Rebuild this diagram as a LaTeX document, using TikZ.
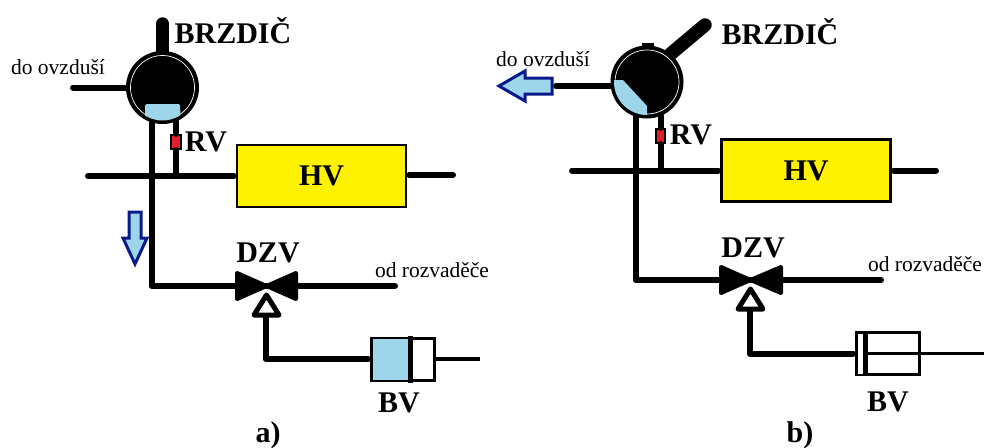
\documentclass[tikz,border=0pt]{standalone}
\usepackage{fontspec}
\setmainfont{Liberation Serif}
\definecolor{liquid}{HTML}{9DD6EA}
\definecolor{navyline}{HTML}{0A1A8C}
\definecolor{hvyellow}{HTML}{FFF200}
\definecolor{rvred}{HTML}{E2202C}
\begin{document}
\begin{tikzpicture}[x=1pt,y=-1pt,
  pipe/.style={line width=6pt,line cap=round,line join=round},
  rod/.style={line width=3.5pt},
  brake/.style={circle,draw=black,fill=black,line width=4pt,minimum size=69pt,inner sep=0pt},
  handle/.style={line width=13.5pt,line cap=round},
  ring/.style={draw=white,line width=0.7pt},
  tank/.style={rectangle,draw=black,fill=hvyellow,line width=2.5pt,minimum width=169pt,minimum height=62pt,inner sep=0pt,font=\fontsize{30}{32}\selectfont\bfseries},
  relief/.style={rectangle,draw=black,fill=rvred,line width=1.8pt,minimum width=9.5pt,minimum height=14.5pt,inner sep=0pt},
  cyl/.style={rectangle,draw=black,fill=white,line width=3pt,minimum width=62.5pt,minimum height=42pt,inner sep=0pt},
  wedge/.style={fill=black,draw=black,line width=4pt,line join=round},
  port/.style={fill=white,draw=black,line width=5pt,line join=round},
  flow/.style={fill=liquid,draw=navyline,line width=3pt,line join=miter},
  big/.style={inner sep=0pt,font=\fontsize{30}{32}\selectfont\bfseries},
  small/.style={inner sep=0pt,font=\fontsize{21.5}{24}\selectfont}]
\useasboundingbox (0,0) rectangle (984,447);
\fill[white] (0,0) rectangle (984,447);

\coordinate (handleA) at (162.5,24);
\coordinate (ventA) at (73,87.5);
\coordinate (lineWA) at (88,176);
\coordinate (teeA) at (176,176);
\coordinate (bendA) at (151.5,286);
\coordinate (stubA) at (453,175);
\coordinate (feedA) at (395,286);
\coordinate (portA) at (265.5,316);
\coordinate (bendBA) at (265.5,359);
\coordinate (rodA) at (480,359);
\coordinate (midA) at (266.5,286);
\node[brake] (brakeA) at (162.5,87.5) {};
\draw[handle] (brakeA.north) -- (handleA);
\begin{scope}
\clip (brakeA.center) circle (33pt);
\draw[ring] (brakeA.center) circle (32pt);
\fill[liquid,rounded corners=1.5pt] (145,104) -- (180,104) -- (181,130) -- (145,130) -- cycle;
\end{scope}
\node[tank] (hvA) at (321.5,176) {HV};
\node[relief] (rvA) at (176,142) {};
\node[cyl] (bvA) at (403,359) {};
\fill[liquid] (372.5,338.5) rectangle (409,379.5);
\draw[line width=5pt] (410,335.5) -- (410,382.5);
\draw[pipe] (ventA) -- (ventA -| brakeA.west);
\draw[pipe] (bendA |- brakeA.251) -- (bendA) -- (midA);
\draw[pipe,shorten >=2pt] (lineWA) -- (hvA.west);
\draw[pipe] (rvA.north |- brakeA.-68) -- (rvA.north);
\draw[pipe] (rvA.south) -- (teeA);
\draw[pipe,shorten <=2pt] (stubA -| hvA.east) -- (stubA);
\draw[pipe] (midA) -- (feedA);
\draw[wedge] (midA) -- (237,273) -- (237,299) -- cycle;
\draw[wedge] (midA) -- (296,273) -- (296,299) -- cycle;
\draw[port] (266.5,295) -- (254,315) -- (279,315) -- cycle;
\draw[pipe,shorten >=2pt] (portA) -- (bendBA) -- (bvA.west);
\draw[rod] (bvA.east) -- (rodA);
\draw[flow] (129,212) -- (141,212) -- (141,238) -- (147,238) -- (135,264) -- (123,238) -- (129,238) -- cycle;
\node[big] (brakeTextA) at (233,31) {BRZDIČ};
\node[small] (ventTextA) at (58,67) {do ovzduší};
\node[big] (rvTextA) at (206,142) {RV};
\node[big] (dzvTextA) at (268,253) {DZV};
\node[small] (feedTextA) at (432,270) {od rozvaděče};
\node[big] (bvTextA) at (399,403) {BV};
\node[big] (capA) at (268,435) {a)};

\coordinate (handleB) at (705,25);
\coordinate (ventB) at (556,86);
\coordinate (lineWB) at (572,170.5);
\coordinate (teeB) at (660.5,170.5);
\coordinate (bendB) at (635.5,280);
\coordinate (stubB) at (936,170.5);
\coordinate (feedB) at (881,280);
\coordinate (portB) at (749.5,310);
\coordinate (bendBB) at (749.5,353.5);
\coordinate (rodB) at (984,353.5);
\coordinate (midB) at (750.5,280);
\node[brake] (brakeB) at (647,82) {};
\draw[handle] (brakeB.50) -- (handleB);
\fill[black] (642,43) rectangle (654,48);
\begin{scope}
\clip (brakeB.center) circle (33pt);
\draw[ring] (brakeB.center) circle (32pt);
\fill[liquid] (612,80) -- (623,80) -- (647,106) -- (647,120) -- (612,120) -- cycle;
\end{scope}
\node[tank] (hvB) at (806,170.5) {HV};
\node[relief] (rvB) at (660.5,136) {};
\node[cyl] (bvB) at (888,353.5) {};
\draw[pipe] (ventB) -- (ventB -| brakeB.west);
\draw[pipe] (bendB |- brakeB.250) -- (bendB) -- (midB);
\draw[pipe,shorten >=2pt] (lineWB) -- (hvB.west);
\draw[pipe] (rvB.north |- brakeB.-68) -- (rvB.north);
\draw[pipe] (rvB.south) -- (teeB);
\draw[pipe,shorten <=2pt] (stubB -| hvB.east) -- (stubB);
\draw[pipe] (midB) -- (feedB);
\draw[wedge] (midB) -- (721,267) -- (721,293) -- cycle;
\draw[wedge] (midB) -- (781,267) -- (781,293) -- cycle;
\draw[port] (750.5,289) -- (738,309) -- (763,309) -- cycle;
\draw[pipe,shorten >=2pt] (portB) -- (bendBB) -- (bvB.west);
\draw[rod] (bvB.west) -- (rodB);
\fill[white] (858,333.5) rectangle (862.5,373.5);
\draw[line width=5pt] (865,332) -- (865,375);
\draw[flow] (552,78) -- (525,78) -- (525,71) -- (499,86) -- (525,101) -- (525,94) -- (552,94) -- cycle;
\node[big] (brakeTextB) at (780,32) {BRZDIČ};
\node[small] (ventTextB) at (543,59) {do ovzduší};
\node[big] (rvTextB) at (691,135) {RV};
\node[big] (dzvTextB) at (753,248) {DZV};
\node[small] (feedTextB) at (925,264) {od rozvaděče};
\node[big] (bvTextB) at (888,402) {BV};
\node[big] (capB) at (800,435) {b)};
\end{tikzpicture}
\end{document}
